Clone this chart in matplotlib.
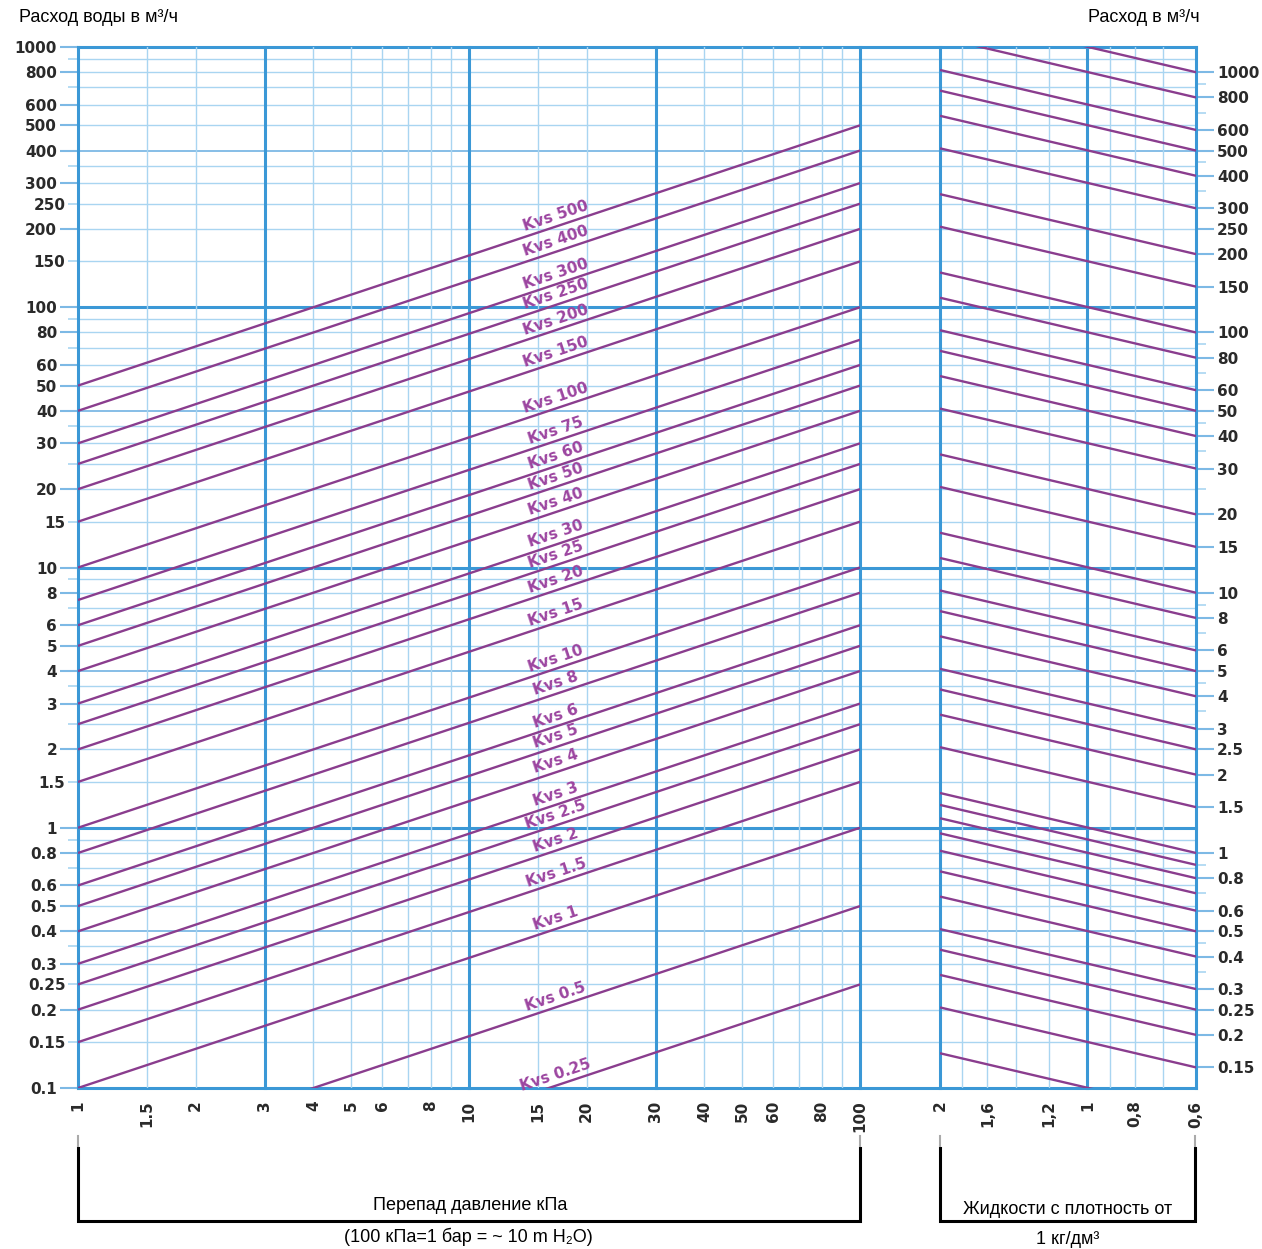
import numpy as np
import matplotlib.pyplot as plt
from matplotlib.lines import Line2D
from matplotlib.ticker import FixedLocator, FixedFormatter, NullLocator

W, H = 1262, 1249

# Kvs lines of the main panel (flow at 100 kPa), pressure drop range in kPa
kvs = [500, 400, 300, 250, 200, 150, 100, 75, 60, 50, 40, 30, 25, 20, 15,
       10, 8, 6, 5, 4, 3, 2.5, 2, 1.5, 1, 0.5, 0.25]
dp_ends = [1, 100]
label_dp = 17

# density correction panel: nominal flows and multipliers read at rho=2 / rho=0.6
rho_flows = [1000, 800, 600, 500, 400, 300, 200, 150, 100, 80, 60, 50, 40, 30,
             20, 15, 10, 8, 6, 5, 4, 3, 2.5, 2, 1.5, 1, 0.9, 0.8, 0.7, 0.6,
             0.5, 0.4, 0.3, 0.25, 0.2, 0.15, 0.1]
rho_ends = [2, 0.6]
rho_factor = [1.36, 0.80]

# tick labels
left_long = [1000, 800, 600, 500, 400, 300, 200, 100, 80, 60, 50, 40, 30, 20,
             10, 8, 6, 5, 4, 3, 2, 1, 0.8, 0.6, 0.5, 0.4, 0.3, 0.2, 0.1]
left_short_lab = [250, 150, 15, 1.5, 0.25, 0.15]
right_long = [1000, 800, 600, 500, 400, 300, 250, 200, 100, 80, 60, 50, 40, 30,
              20, 10, 8, 6, 5, 4, 3, 2.5, 2, 1, 0.8, 0.6, 0.5, 0.4, 0.3, 0.25,
              0.2, 0.15]
right_short_lab = [150, 15, 1.5]
right_short = [900, 700, 450, 350, 90, 70, 45, 35, 25, 9, 7, 4.5, 3.5,
               0.9, 0.7, 0.45, 0.35]
dp_ticks = [1, 1.5, 2, 3, 4, 5, 6, 8, 10, 15, 20, 30, 40, 50, 60, 80, 100]
rho_ticks = [2, 1.6, 1.2, 1, 0.8, 0.6]
rho_tick_labels = ['2', '1,6', '1,2', '1', '0,8', '0,6']

# grid
grid_mult = [1, 1.5, 2, 2.5, 3, 3.5, 4, 5, 6, 7, 8, 9]
dp_major = [1, 3, 10, 30, 100]
dp_minor = [1.5, 2, 4, 5, 6, 7, 8, 9, 15, 20, 40, 50, 60, 70, 80, 90]
rho_major = [2, 1, 0.6]
rho_minor = [1.8, 1.6, 1.4, 1.2, 0.9, 0.8, 0.7]

MAJOR = '#3b98d6'
MID = '#7db9e5'
MINOR = '#a9d5f1'
LINE = '#8a3d8e'
LABEL = '#9c45a0'
TXT = '#2a2a2a'
NARROW = ['Liberation Sans Narrow', 'Liberation Sans', 'DejaVu Sans']

y_grid = [round(d * m, 4) for d in [0.1, 1, 10, 100] for m in grid_mult] + [1000]


def fpos(x0, x1):
    return [x0 / W, 1 - 1088 / H, (x1 - x0) / W, 1041 / H]


fig = plt.figure(figsize=(W / 100, H / 100), dpi=100)
ax_bg = fig.add_axes(fpos(78, 1196), zorder=0)
ax = fig.add_axes(fpos(78, 860), zorder=2)
ax_r = fig.add_axes(fpos(940, 1196), zorder=2)

for a in (ax_bg, ax, ax_r):
    a.set_yscale('log')
    a.set_ylim(0.1, 1000)
    a.set_xscale('log')
    a.patch.set_alpha(0)
    for s in a.spines.values():
        s.set_visible(False)
ax_bg.patch.set_alpha(1)
ax_bg.patch.set_facecolor('white')
ax.set_xlim(1, 100)
ax_r.set_xlim(2, 0.6)
ax_bg.set_xlim(1, 10)
ax_bg.set_xticks([])
ax_bg.set_yticks([])
ax_bg.yaxis.set_minor_locator(NullLocator())
ax_bg.xaxis.set_minor_locator(NullLocator())

# horizontal grid across both panels
for v in y_grid:
    if v in (0.1, 1, 10, 100, 1000):
        ax_bg.axhline(v, color=MAJOR, lw=2.2, clip_on=False, zorder=2)
    elif v in (0.4, 4, 40, 400):
        ax_bg.axhline(v, color=MID, lw=1.3, clip_on=False, zorder=1)
    else:
        ax_bg.axhline(v, color=MINOR, lw=1.0, clip_on=False, zorder=1)

# vertical grid
for x in dp_minor:
    ax.axvline(x, color=MINOR, lw=1.0, zorder=1)
for x in dp_major:
    ax.axvline(x, color=MAJOR, lw=2.2, zorder=2, clip_on=False)
for x in rho_minor:
    ax_r.axvline(x, color=MINOR, lw=1.0, zorder=1)
for x in rho_major:
    ax_r.axvline(x, color=MAJOR, lw=2.2, zorder=2, clip_on=False)

# Kvs lines
p1 = ax.transData.transform((1, 1))
p2 = ax.transData.transform((100, 10))
angle = np.degrees(np.arctan2(p2[1] - p1[1], p2[0] - p1[0]))
for k in kvs:
    q = [k * np.sqrt(d / 100) for d in dp_ends]
    ax.plot(dp_ends, q, color=LINE, lw=1.7, zorder=3, solid_capstyle='butt')
    ql = k * np.sqrt(label_dp / 100)
    ax.annotate(f'Kvs {k:g}', xy=(label_dp, ql), xytext=(-0.6, 1.6),
                textcoords='offset points', rotation=angle,
                rotation_mode='anchor', ha='center', va='bottom',
                fontsize=11, fontweight='bold', color=LABEL, zorder=4)

# density lines
for v in rho_flows:
    q = [v * f for f in rho_factor]
    ax_r.plot(rho_ends, q, color=LINE, lw=1.7, zorder=3, solid_capstyle='butt')

# left y axis
left_minor = sorted(set(y_grid) - set(left_long))
ax.yaxis.set_major_locator(FixedLocator(left_long))
ax.yaxis.set_major_formatter(FixedFormatter([f'{v:g}' for v in left_long]))
ax.yaxis.set_minor_locator(FixedLocator(left_minor))
ax.yaxis.set_minor_formatter(FixedFormatter(
    [f'{v:g}' if v in left_short_lab else '' for v in left_minor]))
ax.tick_params(axis='y', which='major', length=13, width=1.5, color=MID,
               pad=2, labelsize=11, labelcolor=TXT)
ax.tick_params(axis='y', which='minor', length=7, width=1.2, color=MINOR,
               pad=2, labelsize=11, labelcolor=TXT)
for lab in ax.get_yticklabels(which='both'):
    lab.set_fontweight('bold')

# bottom x axes
ax.xaxis.set_minor_locator(NullLocator())
ax.set_xticks(dp_ticks)
ax.set_xticklabels([f'{v:g}' for v in dp_ticks], rotation=90,
                   fontsize=11, fontweight='bold', color=TXT)
ax.tick_params(axis='x', length=0, pad=9)
ax_r.xaxis.set_minor_locator(NullLocator())
ax_r.set_xticks(rho_ticks)
ax_r.set_xticklabels(rho_tick_labels, rotation=90,
                     fontsize=11, fontweight='bold', color=TXT)
ax_r.tick_params(axis='x', length=0, pad=9)

# right y axis (flow at rho=0.6 end)
f06 = rho_factor[1]
r_major = right_long + right_short_lab
r_major_pos = [v * f06 for v in r_major]
ax_r.yaxis.tick_right()
ax_r.yaxis.set_major_locator(FixedLocator(r_major_pos))
ax_r.yaxis.set_major_formatter(FixedFormatter([f'{v:g}' for v in r_major]))
ax_r.yaxis.set_minor_locator(FixedLocator([v * f06 for v in right_short]))
ax_r.yaxis.set_minor_formatter(FixedFormatter([''] * len(right_short)))
ax_r.tick_params(axis='y', which='major', length=13, width=1.5, color=MID,
                 pad=2, labelsize=11, labelcolor=TXT)
ax_r.tick_params(axis='y', which='minor', length=7, width=1.2, color=MINOR)
for lab in ax_r.get_yticklabels():
    lab.set_fontweight('bold')


def fp(x, y):
    return (x / W, 1 - y / H)


def bracket(x0, x1):
    pts = [fp(x0, 1148), fp(x0, 1221), fp(x1, 1221), fp(x1, 1148)]
    fig.add_artist(Line2D([p[0] for p in pts], [p[1] for p in pts],
                          color='black', lw=2.2, solid_joinstyle='miter'))
    for x in (x0, x1):
        fig.add_artist(Line2D([fp(x, 1136)[0]] * 2,
                              [fp(x, 1136)[1], fp(x, 1146)[1]],
                              color='#aaaaaa', lw=1.5))


bracket(78, 860)
bracket(940, 1195)

fig.text(*fp(19, 18), 'Расход воды в м³/ч', fontsize=13, family=NARROW,
         ha='left', va='center', color='black')
fig.text(*fp(1200, 18), 'Расход в м³/ч', fontsize=13, family=NARROW,
         ha='right', va='center', color='black')
fig.text(*fp(470, 1205), 'Перепад давление кПа', fontsize=13, family=NARROW,
         ha='center', va='center', color='black')
fig.text(*fp(468, 1237), '(100 кПа=1 бар = ~ 10 m H₂O)', fontsize=13,
         family=NARROW, ha='center', va='center', color='black')
fig.text(*fp(1068, 1209), 'Жидкости с плотность от', fontsize=13,
         family=NARROW, ha='center', va='center', color='black')
fig.text(*fp(1068, 1240), '1 кг/дм³', fontsize=13, family=NARROW,
         ha='center', va='center', color='black')

fig.savefig('out.png', dpi=100, facecolor='white')
